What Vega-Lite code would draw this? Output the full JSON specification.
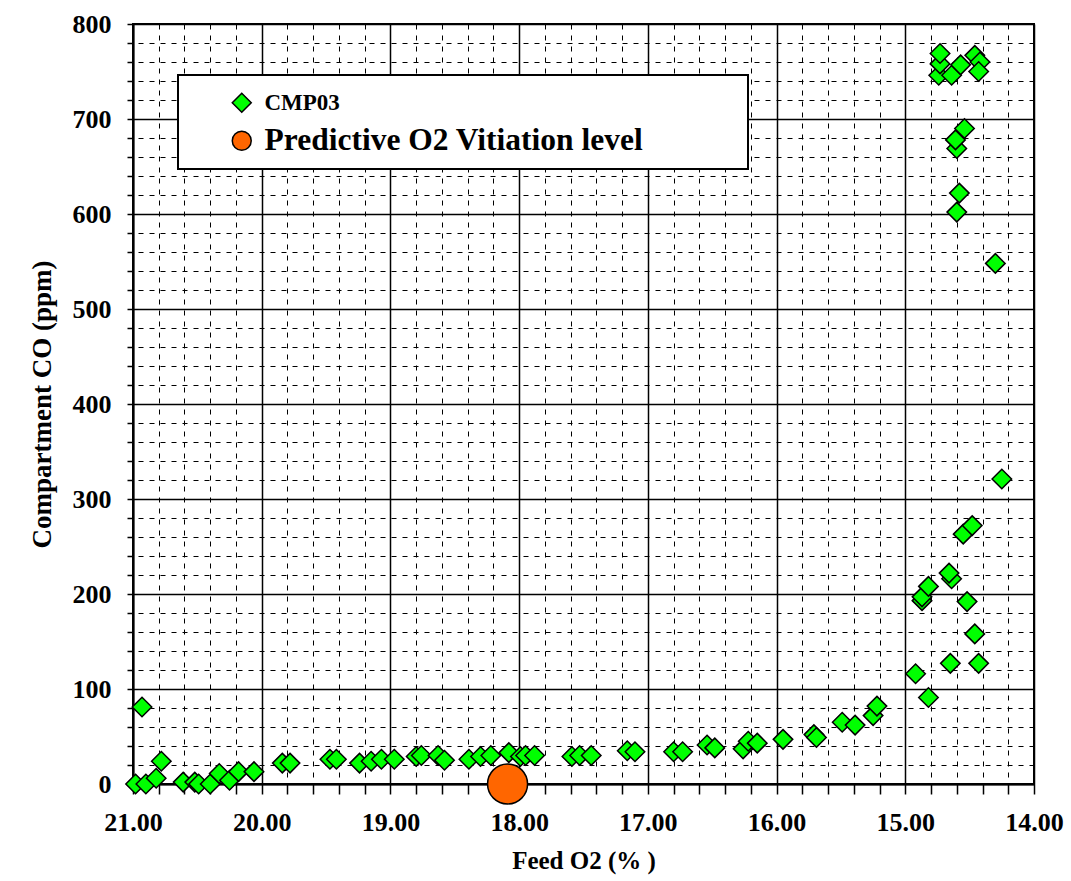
{
  "$schema": "https://vega.github.io/schema/vega-lite/v6.json",
  "width": 901,
  "height": 760,
  "autosize": {"type": "none"},
  "padding": {"left": 133, "top": 24, "right": 37, "bottom": 97},
  "background": "white",
  "config": {
    "font": "Liberation Serif",
    "view": {"stroke": "black", "strokeWidth": 2},
    "legend": {"strokeWidth": 2}
  },
  "datasets": {
    "cmp03": [
      {"series": "CMP03", "o2": 20.98, "co": 0},
      {"series": "CMP03", "o2": 20.93, "co": 81},
      {"series": "CMP03", "o2": 20.90, "co": 0},
      {"series": "CMP03", "o2": 20.82, "co": 6},
      {"series": "CMP03", "o2": 20.78, "co": 24},
      {"series": "CMP03", "o2": 20.61, "co": 2},
      {"series": "CMP03", "o2": 20.52, "co": 2},
      {"series": "CMP03", "o2": 20.49, "co": 0},
      {"series": "CMP03", "o2": 20.40, "co": 0},
      {"series": "CMP03", "o2": 20.33, "co": 11},
      {"series": "CMP03", "o2": 20.25, "co": 4},
      {"series": "CMP03", "o2": 20.18, "co": 13},
      {"series": "CMP03", "o2": 20.06, "co": 13},
      {"series": "CMP03", "o2": 19.84, "co": 22},
      {"series": "CMP03", "o2": 19.78, "co": 22},
      {"series": "CMP03", "o2": 19.47, "co": 26},
      {"series": "CMP03", "o2": 19.42, "co": 26},
      {"series": "CMP03", "o2": 19.24, "co": 22},
      {"series": "CMP03", "o2": 19.15, "co": 24},
      {"series": "CMP03", "o2": 19.07, "co": 26},
      {"series": "CMP03", "o2": 18.97, "co": 26},
      {"series": "CMP03", "o2": 18.80, "co": 29},
      {"series": "CMP03", "o2": 18.76, "co": 30},
      {"series": "CMP03", "o2": 18.63, "co": 30},
      {"series": "CMP03", "o2": 18.58, "co": 25},
      {"series": "CMP03", "o2": 18.39, "co": 26},
      {"series": "CMP03", "o2": 18.30, "co": 29},
      {"series": "CMP03", "o2": 18.22, "co": 30},
      {"series": "CMP03", "o2": 18.08, "co": 33},
      {"series": "CMP03", "o2": 17.99, "co": 29},
      {"series": "CMP03", "o2": 17.95, "co": 30},
      {"series": "CMP03", "o2": 17.88, "co": 30},
      {"series": "CMP03", "o2": 17.59, "co": 29},
      {"series": "CMP03", "o2": 17.53, "co": 30},
      {"series": "CMP03", "o2": 17.44, "co": 30},
      {"series": "CMP03", "o2": 17.16, "co": 35},
      {"series": "CMP03", "o2": 17.10, "co": 34},
      {"series": "CMP03", "o2": 16.80, "co": 34},
      {"series": "CMP03", "o2": 16.73, "co": 34},
      {"series": "CMP03", "o2": 16.54, "co": 41},
      {"series": "CMP03", "o2": 16.48, "co": 38},
      {"series": "CMP03", "o2": 16.26, "co": 37},
      {"series": "CMP03", "o2": 16.22, "co": 45},
      {"series": "CMP03", "o2": 16.15, "co": 43},
      {"series": "CMP03", "o2": 15.95, "co": 47},
      {"series": "CMP03", "o2": 15.71, "co": 52},
      {"series": "CMP03", "o2": 15.69, "co": 49},
      {"series": "CMP03", "o2": 15.49, "co": 65},
      {"series": "CMP03", "o2": 15.39, "co": 62},
      {"series": "CMP03", "o2": 15.25, "co": 72},
      {"series": "CMP03", "o2": 15.22, "co": 82},
      {"series": "CMP03", "o2": 14.92, "co": 116},
      {"series": "CMP03", "o2": 14.82, "co": 91},
      {"series": "CMP03", "o2": 14.65, "co": 127},
      {"series": "CMP03", "o2": 14.43, "co": 127},
      {"series": "CMP03", "o2": 14.46, "co": 158},
      {"series": "CMP03", "o2": 14.52, "co": 192},
      {"series": "CMP03", "o2": 14.87, "co": 193},
      {"series": "CMP03", "o2": 14.87, "co": 197},
      {"series": "CMP03", "o2": 14.82, "co": 208},
      {"series": "CMP03", "o2": 14.64, "co": 216},
      {"series": "CMP03", "o2": 14.66, "co": 222},
      {"series": "CMP03", "o2": 14.55, "co": 263},
      {"series": "CMP03", "o2": 14.48, "co": 272},
      {"series": "CMP03", "o2": 14.25, "co": 321},
      {"series": "CMP03", "o2": 14.30, "co": 548},
      {"series": "CMP03", "o2": 14.60, "co": 602},
      {"series": "CMP03", "o2": 14.58, "co": 622},
      {"series": "CMP03", "o2": 14.60, "co": 669},
      {"series": "CMP03", "o2": 14.61, "co": 678},
      {"series": "CMP03", "o2": 14.54, "co": 690},
      {"series": "CMP03", "o2": 14.74, "co": 746},
      {"series": "CMP03", "o2": 14.64, "co": 746},
      {"series": "CMP03", "o2": 14.73, "co": 758},
      {"series": "CMP03", "o2": 14.73, "co": 769},
      {"series": "CMP03", "o2": 14.57, "co": 757},
      {"series": "CMP03", "o2": 14.46, "co": 767},
      {"series": "CMP03", "o2": 14.42, "co": 760},
      {"series": "CMP03", "o2": 14.43, "co": 750}
    ],
    "predictive": [
      {"series": "Predictive O2 Vitiation level", "o2": 18.09, "co": 0}
    ]
  },
  "encoding": {
    "x": {
      "field": "o2",
      "type": "quantitative",
      "scale": {"domain": [14, 21], "reverse": true, "nice": false, "zero": false},
      "axis": {
        "title": "Feed O2 (% )",
        "values": [14, 14.2, 14.4, 14.6, 14.8, 15, 15.2, 15.4, 15.6, 15.8, 16, 16.2, 16.4, 16.6, 16.8, 17, 17.2, 17.4, 17.6, 17.8, 18, 18.2, 18.4, 18.6, 18.8, 19, 19.2, 19.4, 19.6, 19.8, 20, 20.2, 20.4, 20.6, 20.8, 21],
        "labelExpr": "abs(datum.value - round(datum.value)) < 0.01 ? format(datum.value, '.2f') : ''",
        "labelFont": "Liberation Serif",
        "labelFontWeight": "bold",
        "labelFontSize": 26,
        "labelColor": "black",
        "labelPadding": 15,
        "labelFlush": false,
        "labelOverlap": false,
        "domainColor": "black",
        "domainWidth": 2,
        "tickColor": "black",
        "tickWidth": 1.5,
        "tickSize": 10,
        "grid": true,
        "gridColor": "black",
        "gridOpacity": 1,
        "gridDash": {"condition": {"test": "abs(datum.value - round(datum.value)) < 0.01", "value": []}, "value": [5, 6]},
        "gridWidth": {"condition": {"test": "abs(datum.value - round(datum.value)) < 0.01", "value": 1.5}, "value": 1},
        "titleFont": "Liberation Serif",
        "titleFontWeight": "bold",
        "titleFontSize": 25,
        "titleColor": "black",
        "titleBaseline": "middle",
        "titleY": 76
      }
    },
    "y": {
      "field": "co",
      "type": "quantitative",
      "scale": {"domain": [0, 800], "nice": false},
      "axis": {
        "title": "Compartment CO (ppm)",
        "values": [0, 20, 40, 60, 80, 100, 120, 140, 160, 180, 200, 220, 240, 260, 280, 300, 320, 340, 360, 380, 400, 420, 440, 460, 480, 500, 520, 540, 560, 580, 600, 620, 640, 660, 680, 700, 720, 740, 760, 780, 800],
        "labelExpr": "datum.value % 100 == 0 ? datum.label : ''",
        "labelFont": "Liberation Serif",
        "labelFontWeight": "bold",
        "labelFontSize": 26,
        "labelColor": "black",
        "labelPadding": 16,
        "labelFlush": false,
        "labelOverlap": false,
        "domainColor": "black",
        "domainWidth": 2,
        "tickColor": "black",
        "tickWidth": 1.5,
        "tickSize": 6,
        "grid": true,
        "gridColor": "black",
        "gridOpacity": 1,
        "gridDash": {"condition": {"test": "datum.value % 100 == 0", "value": []}, "value": [5, 6]},
        "gridWidth": {"condition": {"test": "datum.value % 100 == 0", "value": 1.5}, "value": 1},
        "titleFont": "Liberation Serif",
        "titleFontWeight": "bold",
        "titleFontSize": 27,
        "titleColor": "black",
        "titleBaseline": "middle",
        "titleX": -91
      }
    },
    "color": {
      "field": "series",
      "type": "nominal",
      "scale": {"domain": ["CMP03", "Predictive O2 Vitiation level"], "range": ["#00FF00", "#FF6600"]},
      "legend": {
        "title": null,
        "orient": "none",
        "legendX": 45,
        "legendY": 51,
        "direction": "vertical",
        "fillColor": "white",
        "strokeColor": "black",
        "padding": 12,
        "rowPadding": 8,
        "symbolOffset": 36,
        "symbolSize": 360,
        "symbolStrokeColor": "black",
        "symbolStrokeWidth": 1.5,
        "symbolOpacity": 1,
        "labelOffset": 7,
        "labelFont": "Liberation Serif",
        "labelFontWeight": "bold",
        "labelColor": "black",
        "labelLimit": 0,
        "labelFontSize": {"expr": "datum.label == 'CMP03' ? 23 : 31.5"},
        "labelExpr": "datum.label == 'CMP03' ? 'CMP03' : 'Predictive O2 Vitiation level\u2800\u2800\u2800\u2800'"
      }
    },
    "shape": {
      "field": "series",
      "type": "nominal",
      "scale": {"domain": ["CMP03", "Predictive O2 Vitiation level"], "range": ["diamond", "circle"]},
      "legend": null
    }
  },
  "layer": [
    {
      "data": {"name": "cmp03"},
      "mark": {"type": "point", "filled": true, "stroke": "black", "strokeWidth": 1.5, "size": 380, "opacity": 1}
    },
    {
      "data": {"name": "predictive"},
      "mark": {"type": "point", "filled": true, "stroke": "black", "strokeWidth": 1.5, "size": 1600, "opacity": 1}
    }
  ]
}
